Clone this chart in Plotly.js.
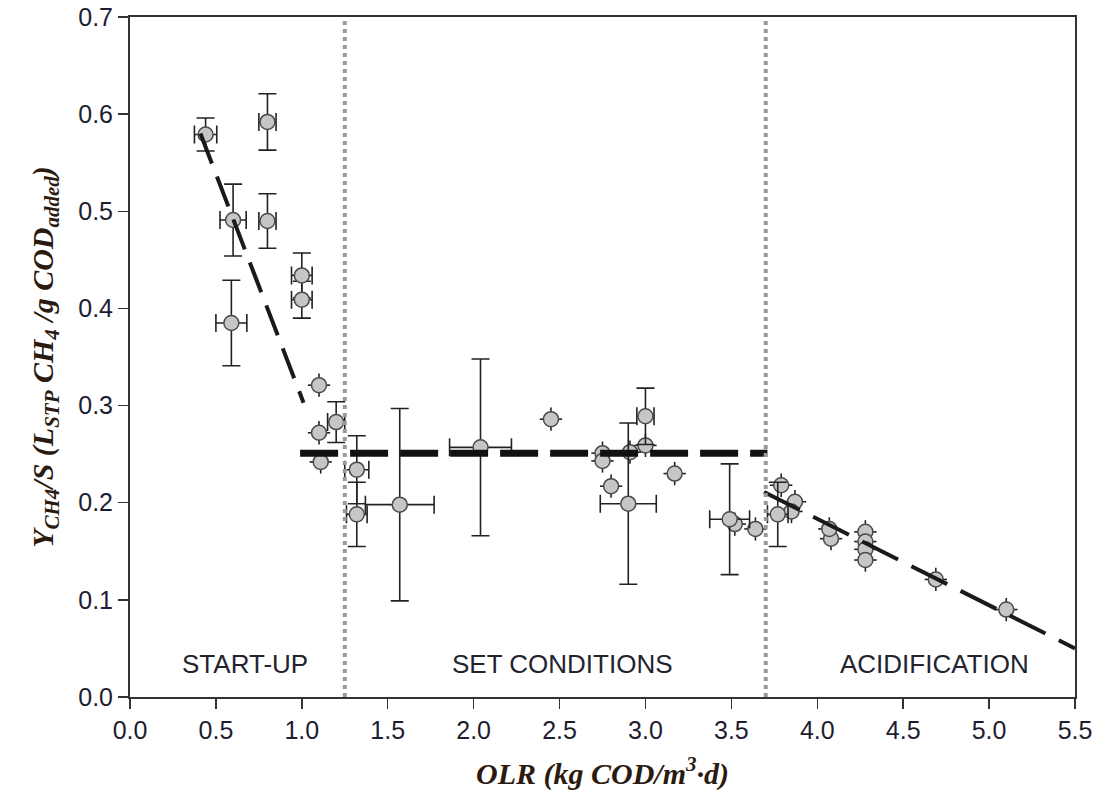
<!DOCTYPE html>
<html>
<head>
<meta charset="utf-8">
<script src="https://cdn.plot.ly/plotly-3.0.1.min.js"></script>
<style>html,body{margin:0;padding:0;background:#fff;}#chart{width:1094px;height:798px;}</style>
</head>
<body>
<div id="chart"></div>
<script>
// OLR (kg COD/m3·d) of each measurement
const olr = [0.44, 0.80, 0.60, 0.80, 1.00, 1.00, 0.59, 1.10, 1.20, 1.10, 1.11, 1.32, 1.32, 1.57, 2.04,
  2.45, 2.75, 2.75, 2.80, 2.90, 2.91, 3.00, 3.00, 3.17, 3.49, 3.52, 3.64,
  3.79, 3.87, 3.77, 3.85, 4.08, 4.07, 4.28, 4.28, 4.28, 4.28, 4.69, 5.10];
// methane yield Y CH4/S
const yieldCH4 = [0.579, 0.592, 0.491, 0.490, 0.434, 0.409, 0.385, 0.321, 0.283, 0.272, 0.242, 0.234, 0.188, 0.198, 0.257,
  0.286, 0.251, 0.243, 0.217, 0.199, 0.252, 0.289, 0.259, 0.230, 0.183, 0.178, 0.173,
  0.218, 0.201, 0.188, 0.191, 0.163, 0.173, 0.170, 0.160, 0.152, 0.141, 0.121, 0.090];
const yieldErr = [0.017, 0.029, 0.037, 0.028, 0.023, 0.019, 0.044, 0.012, 0.021, 0.012, 0.012, 0.035, 0.033, 0.099, 0.091,
  0.012, 0.012, 0.012, 0.012, 0.083, 0.012, 0.029, 0.012, 0.012, 0.057, 0.012, 0.012,
  0.012, 0.012, 0.033, 0.012, 0.012, 0.012, 0.012, 0.012, 0.012, 0.012, 0.012, 0.012];
const olrErr = [0.065, 0.05, 0.076, 0.05, 0.06, 0.06, 0.09, 0.065, 0.05, 0.065, 0.065, 0.07, 0.06, 0.20, 0.18,
  0.065, 0.065, 0.065, 0.065, 0.163, 0.065, 0.05, 0.065, 0.065, 0.116, 0.065, 0.065,
  0.065, 0.065, 0.06, 0.065, 0.065, 0.065, 0.065, 0.065, 0.065, 0.065, 0.065, 0.065];

// fitted trend lines per phase
const startupFitX = [0.41, 1.01];
const startupFitY = [0.580, 0.303];
const setFitX = [0.99, 3.71];
const setFitY = [0.251, 0.251];
const acidFitX = [3.69, 5.5];
const acidFitY = [0.211, 0.050];

// phase boundaries and labels
const phaseBounds = [1.25, 3.70];
const phaseLabels = ['START-UP', 'SET CONDITIONS', 'ACIDIFICATION'];
const phaseLabelX = [0.67, 2.52, 4.68];
const phaseLabelY = 0.034;

const xTicks = [0, 0.5, 1, 1.5, 2, 2.5, 3, 3.5, 4, 4.5, 5, 5.5];
const yTicks = [0, 0.1, 0.2, 0.3, 0.4, 0.5, 0.6, 0.7];

// split points into large (capped) and small error bars
const bigIdx = [], smallIdx = [];
yieldErr.forEach((e, i) => (e > 0.015 || olrErr[i] > 0.07 ? bigIdx : smallIdx).push(i));
const pick = (arr, idx) => idx.map(i => arr[i]);

const markerStyle = {size: 15, color: '#c6c6c6', line: {color: '#4a4a4a', width: 1.5}};
function pointTrace(idx, capW) {
  return {
    x: pick(olr, idx), y: pick(yieldCH4, idx), type: 'scatter', mode: 'markers',
    marker: markerStyle,
    error_y: {type: 'data', array: pick(yieldErr, idx), color: '#222', thickness: 1.6, width: capW},
    error_x: {type: 'data', array: pick(olrErr, idx), color: '#222', thickness: 1.6, width: capW},
    showlegend: false, hoverinfo: 'x+y'
  };
}

const traces = [
  pointTrace(smallIdx, 0),
  pointTrace(bigIdx, 9),
  {x: startupFitX, y: startupFitY, type: 'scatter', mode: 'lines',
   line: {color: '#1a1a1a', width: 4, dash: '32px,14px'}, showlegend: false, hoverinfo: 'skip'},
  {x: setFitX, y: setFitY, type: 'scatter', mode: 'lines',
   line: {color: '#111', width: 7, dash: '38px,12px'}, showlegend: false, hoverinfo: 'skip'},
  {x: acidFitX, y: acidFitY, type: 'scatter', mode: 'lines',
   line: {color: '#1a1a1a', width: 4, dash: '40px,15px'}, showlegend: false, hoverinfo: 'skip'}
];

const shapes = phaseBounds.map(b => ({
  type: 'line', xref: 'x', yref: 'paper', x0: b, x1: b, y0: 0, y1: 1,
  line: {color: '#9a9a9a', width: 4, dash: 'dot'}, layer: 'above'
}));

const labelFont = {family: 'Liberation Sans, Arial, sans-serif', size: 26, color: '#23232e'};
const annotations = phaseLabels.map((t, i) => ({
  x: phaseLabelX[i], y: phaseLabelY, xref: 'x', yref: 'y', text: t, showarrow: false,
  font: labelFont
}));

const tickFont = {family: 'Liberation Sans, Arial, sans-serif', size: 25, color: '#1d1d30'};
const xTitleFont = {family: 'Liberation Serif, Times New Roman, serif', size: 30, color: '#2b1a10', weight: 'bold', style: 'italic'};
const yTitleFont = {family: 'Liberation Serif, Times New Roman, serif', size: 30, color: '#2b1a10', weight: 'bold', style: 'italic'};

const layout = {
  width: 1094, height: 798,
  margin: {l: 130, r: 19, t: 17, b: 101},
  paper_bgcolor: '#fff', plot_bgcolor: '#fff',
  showlegend: false,
  xaxis: {
    range: [0, 5.5], tickvals: xTicks, ticktext: xTicks.map(v => v.toFixed(1)),
    ticks: 'outside', ticklen: 10, tickwidth: 1.5, tickcolor: '#333',
    showline: true, linecolor: '#333', linewidth: 2, mirror: true,
    showgrid: false, zeroline: false,
    tickfont: tickFont,
    title: {text: 'OLR (kg COD/m<sup>3</sup>·d)', standoff: 20, font: xTitleFont}
  },
  yaxis: {
    range: [0, 0.7], tickvals: yTicks, ticktext: yTicks.map(v => v.toFixed(1)),
    ticks: 'outside', ticklen: 10, tickwidth: 1.5, tickcolor: '#333',
    showline: true, linecolor: '#333', linewidth: 2, mirror: true,
    showgrid: false, zeroline: false,
    tickfont: tickFont,
    title: {text: 'Y<sub>CH4</sub>/S (L<sub>STP</sub> CH<sub>4</sub> /g COD<sub>added</sub>)', standoff: 16, font: yTitleFont}
  },
  shapes: shapes,
  annotations: annotations
};

Plotly.newPlot('chart', traces, layout, {displayModeBar: false, staticPlot: true});
</script>
</body>
</html>
